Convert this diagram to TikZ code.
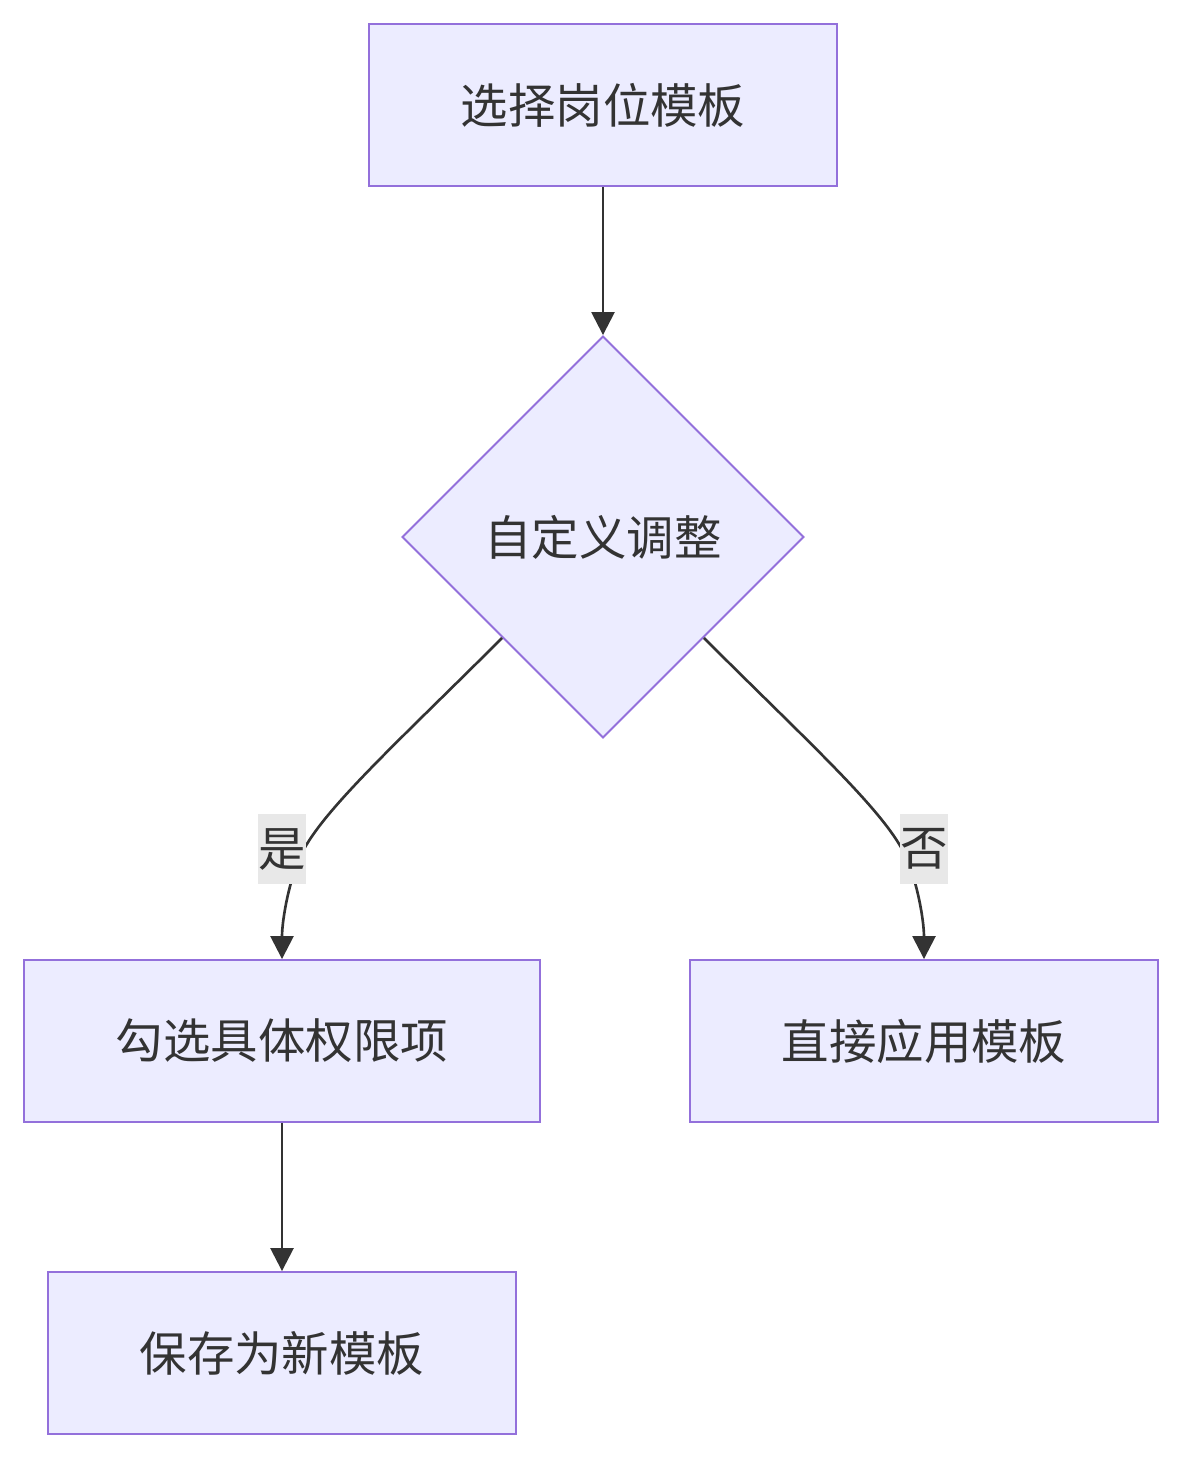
\documentclass[tikz,border=0pt]{standalone}
\usepackage{fontspec}
\setmainfont{Noto Sans CJK SC}
\usetikzlibrary{shapes.geometric, arrows.meta}
\definecolor{boxfill}{HTML}{ECECFF}
\definecolor{boxline}{HTML}{9370DB}
\definecolor{ink}{HTML}{333333}
\definecolor{lblfill}{HTML}{E8E8E8}

\begin{document}
\begin{tikzpicture}[x=0.02cm, y=-0.02cm,
	box/.style={draw=boxline, fill=boxfill, line width=1.1pt, minimum width=9.36cm, minimum height=3.24cm, inner sep=0pt, text=ink, font=\fontsize{27}{32}\selectfont},
	choice/.style={box, diamond, minimum width=8.04cm, minimum height=8.04cm, aspect=1},
	edge/.style={draw=ink, line width=1.5pt, -{Triangle[length=0.46cm, width=0.46cm]}},
	lbl/.style={fill=lblfill, text=ink, font=\fontsize{27}{32}\selectfont, inner sep=0pt, minimum width=0.96cm, minimum height=1.4cm}]
		\useasboundingbox (0, 0) rectangle (1182, 1458);
		\node[box](pick) at (603, 105){选择岗位模板};
		\node[choice](adjust) at (603, 537){自定义调整};
		\node[box, minimum width=10.32cm](tick) at (282, 1041){勾选具体权限项};
		\node[box](apply) at (924, 1041){直接应用模板};
		\node[box](save) at (282, 1353){保存为新模板};
		\draw[edge](pick)--(adjust);
		\draw[edge](adjust.south west) .. controls +(-100, 100) and +(25, -45) .. (304, 849)node[lbl, xshift=-0.44cm]{是} .. controls +(-14, 25) and +(0, -40) .. (tick.north);
		\draw[edge](adjust.south east) .. controls +(100, 100) and +(-25, -45) .. (902, 849)node[lbl, xshift=0.44cm]{否} .. controls +(14, 25) and +(0, -40) .. (apply.north);
		\draw[edge](tick)--(save);
	\end{tikzpicture}
\end{document}
